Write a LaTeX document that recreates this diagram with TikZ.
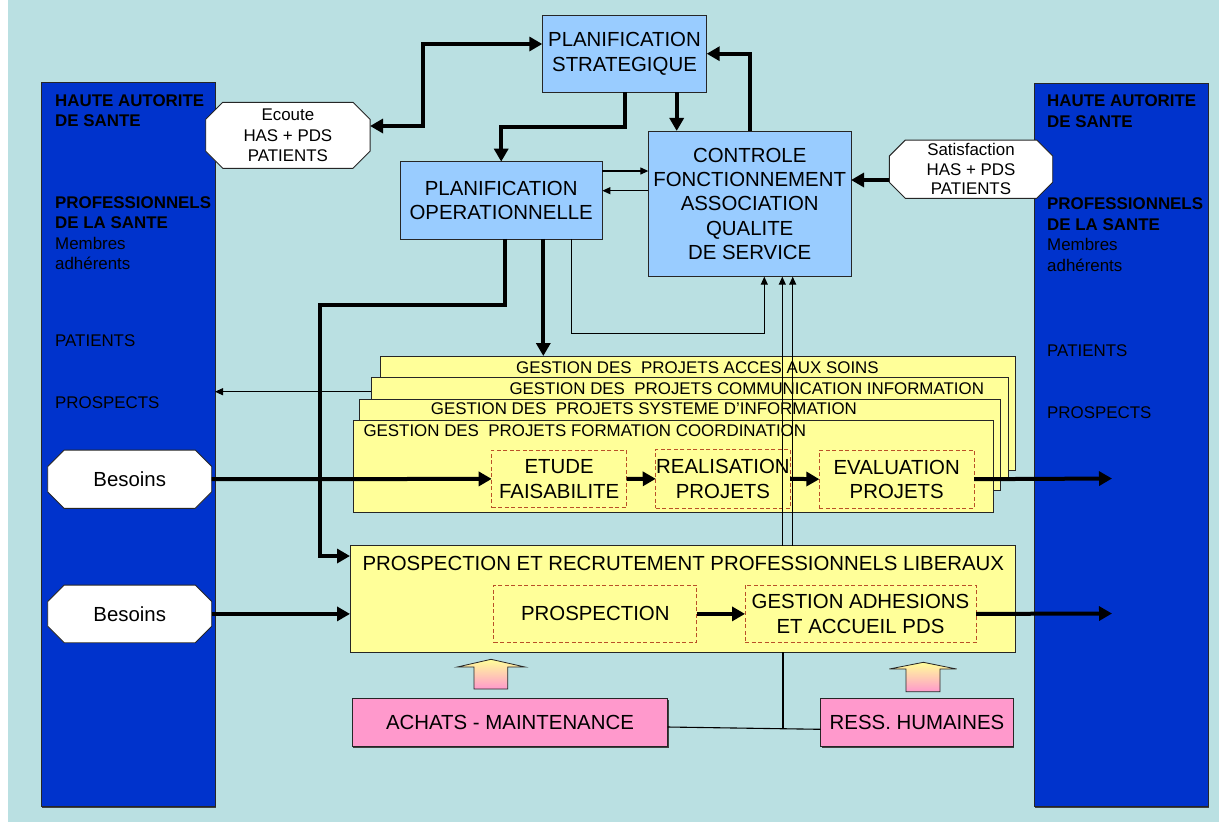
\documentclass[tikz,border=0pt]{standalone}
\usepackage{fontspec}
\setmainfont{Liberation Sans}
\usetikzlibrary{arrows.meta,shadows}
\definecolor{bgc}{RGB}{186,224,226}
\definecolor{panelc}{RGB}{0,51,204}
\definecolor{lblue}{RGB}{153,204,255}
\definecolor{lyel}{RGB}{255,255,153}
\definecolor{lpink}{RGB}{255,153,204}
\definecolor{dashc}{RGB}{185,80,40}
\newcommand\ftbig{\fontsize{20.4}{24.4}\selectfont}
\newcommand\ftsm{\fontsize{16.9}{20.4}\selectfont}
% name, cx, cy, w, h, chamfer, font, text
\newcommand\octnode[8]{%
  \draw[octline] ({#2-#4/2+#6},{#3-#5/2}) -- ({#2+#4/2-#6},{#3-#5/2}) -- ({#2+#4/2},{#3-#5/2+#6})
   -- ({#2+#4/2},{#3+#5/2-#6}) -- ({#2+#4/2-#6},{#3+#5/2}) -- ({#2-#4/2+#6},{#3+#5/2})
   -- ({#2-#4/2},{#3+#5/2-#6}) -- ({#2-#4/2},{#3-#5/2+#6}) -- cycle;
  \node[octtext, font=#7, minimum width=#4, minimum height=#5] (#1) at (#2,#3) {#8};}
\begin{document}
\begin{tikzpicture}[x=1pt,y=-1pt,
  shd/.style={drop shadow={shadow xshift=0.8pt,shadow yshift=-1.6pt,fill=black!75,opacity=1}},
  box/.style={draw=black!85, line width=0.9pt, inner sep=0pt, outer sep=0pt, align=center},
  lbbox/.style={box, fill=lblue, font=\ftbig},
  ybox/.style={box, fill=lyel, anchor=north west},
  dbox/.style={draw=dashc, dash pattern=on 4pt off 2.5pt, line width=1pt, fill=lyel,
               inner sep=0pt, outer sep=0pt, align=center, font=\ftbig},
  pbox/.style={box, fill=lpink, font=\ftbig, shd, anchor=north west},
  panelbox/.style={box, fill=panelc, shd, anchor=north west},
  ptxt/.style={anchor=base west, inner sep=0pt, font=\ftsm, text=black},
  octline/.style={draw=black!85, fill=white, line width=0.9pt},
  octtext/.style={inner sep=0pt, outer sep=0pt, align=center},
  thk/.style={line width=4pt, -{Triangle[length=13pt,width=14pt]}},
  thkboth/.style={line width=4pt, {Triangle[length=13pt,width=14pt]}-{Triangle[length=13pt,width=14pt]}},
  thn/.style={line width=1.1pt, -{Triangle[length=8pt,width=7pt]}},
  thinline/.style={line width=1.1pt},
  blockarrow/.style={top color=lyel, bottom color=lpink, draw=black!85, line width=0.8pt}
]
\useasboundingbox (0,0) rectangle (1219,823);
\fill[bgc] (8,0) rectangle (1219,822);

% side panels
\node[panelbox, minimum width=174, minimum height=724] (lp) at (41,82) {};
\node[panelbox, minimum width=174, minimum height=723] (rp) at (1034,83) {};

\node[ptxt, font=\ftsm\bfseries] (l1) at (55,106) {HAUTE AUTORITE};
\node[ptxt, font=\ftsm\bfseries] (l2) at (55,126.5) {DE SANTE};
\node[ptxt, font=\ftsm\bfseries] (l3) at (55,208) {PROFESSIONNELS};
\node[ptxt, font=\ftsm\bfseries] (l4) at (55,228.5) {DE LA SANTE};
\node[ptxt] (l5) at (55,249) {Membres};
\node[ptxt] (l6) at (55,269.5) {adhérents};
\node[ptxt] (l7) at (55,346.7) {PATIENTS};
\node[ptxt] (l8) at (55,408) {PROSPECTS};

\node[ptxt, font=\ftsm\bfseries] (r1) at (1047,106.7) {HAUTE AUTORITE};
\node[ptxt, font=\ftsm\bfseries] (r2) at (1047,127.5) {DE SANTE};
\node[ptxt, font=\ftsm\bfseries] (r3) at (1047,209) {PROFESSIONNELS};
\node[ptxt, font=\ftsm\bfseries] (r4) at (1047,230) {DE LA SANTE};
\node[ptxt] (r5) at (1047,250.7) {Membres};
\node[ptxt] (r6) at (1047,271.5) {adhérents};
\node[ptxt] (r7) at (1047,356.7) {PATIENTS};
\node[ptxt] (r8) at (1047,418) {PROSPECTS};

% octagons
\octnode{ecoute}{287.9}{135.3}{164.3}{66}{17}{\ftsm}{Ecoute\\HAS + PDS\\PATIENTS}
\octnode{sat}{971}{169.2}{163.4}{58.3}{16}{\fontsize{16.9}{19.6}\selectfont}{Satisfaction\\HAS + PDS\\PATIENTS}
\octnode{bes1}{129.7}{479.2}{164}{58.3}{16.5}{\ftbig}{Besoins}
\octnode{bes2}{129.7}{613.9}{164}{57.7}{16.5}{\ftbig}{Besoins}

% planning boxes
\node[lbbox, minimum width=164.4, minimum height=77.3] (ps) at (624.5,53.7) {PLANIFICATION\\STRATEGIQUE};
\node[lbbox, minimum width=202.3, minimum height=77.3] (po) at (501.2,200.3) {PLANIFICATION\\OPERATIONNELLE};
\node[lbbox, minimum width=202.7, minimum height=145.7] (ctrl) at (749.7,203.8) {CONTROLE\\FONCTIONNEMENT\\ASSOCIATION\\QUALITE\\DE SERVICE};

% project stack
\node[ybox, minimum width=635, minimum height=114] (g4) at (380,356) {};
\node[ptxt] (t4) at (516,373.3) {GESTION DES\ \ PROJETS ACCES AUX SOINS};
\node[ybox, minimum width=637, minimum height=100.7] (g3) at (371,377.3) {};
\node[ptxt] (t3) at (509.3,394.3) {GESTION DES\ \ PROJETS COMMUNICATION INFORMATION};
\node[ybox, minimum width=641.7, minimum height=91.4] (g2) at (359,399.3) {};
\node[ptxt] (t2) at (430.7,414.3) {GESTION DES\ \ PROJETS SYSTEME D’INFORMATION};
\node[ybox, minimum width=640, minimum height=92] (g1) at (353.3,420.7) {};
\node[ptxt] (t1) at (363.3,436.7) {GESTION DES\ \ PROJETS FORMATION COORDINATION};

\node[dbox, minimum width=135, minimum height=57.7] (etude) at (559.2,478.9) {ETUDE\\FAISABILITE};
\node[dbox, minimum width=134.3, minimum height=59] (real) at (722.9,478.8) {REALISATION\\PROJETS};
\node[dbox, minimum width=154.7, minimum height=58.3] (eval) at (896.7,479.2) {EVALUATION\\PROJETS};

% prospection
\node[ybox, minimum width=665, minimum height=106.6] (pr) at (350,545.7) {};
\node[ptxt, font=\ftbig] (prt) at (362.3,570.7) {PROSPECTION ET RECRUTEMENT PROFESSIONNELS LIBERAUX};
\node[dbox, minimum width=202.7, minimum height=57.7] (pros) at (595.3,613.9) {PROSPECTION};
\node[dbox, minimum width=231, minimum height=57.7] (gest) at (860.5,613.9) {GESTION ADHESIONS\\ET ACCUEIL PDS};

% support boxes
\node[pbox, minimum width=315.4, minimum height=48.4] (ach) at (352.3,698.3) {ACHATS - MAINTENANCE};
\node[pbox, minimum width=192.6, minimum height=48.4] (ress) at (820.7,698.3) {RESS. HUMAINES};

% block arrows
\path[blockarrow] (474,689) -- (474,667) -- (457.3,667) -- (491,659.3) -- (525,667) -- (507.7,667) -- (507.7,689) -- cycle;
\path[blockarrow] (906,691.7) -- (906,669) -- (889.3,669) -- (923.3,662.3) -- (956.7,669) -- (940,669) -- (940,691.7) -- cycle;

% connectors
\draw[thkboth] ([yshift=9.3pt]ecoute.east) -- (423,126) |- ([yshift=9.7pt]ps.west);
\draw[thk] (ps.south) -- (ps.south |- 0,127) -| (po.north);
\draw[thk] (ps.south -| 676.7,0) -- (ctrl.north -| 676.7,0);
\draw[thk] (ctrl.north -| 750,0) |- (ps.east);
\draw[thn] (po.east |- 0,171) -- (ctrl.west |- 0,171);
\draw[thn] (ctrl.west |- 0,190.7) -- (po.east |- 0,190.7);
\draw[thk] (sat.west |- 0,180) -- (ctrl.east |- 0,180);
\draw[thk] (po.south -| 505,0) -- (505,305) -- (320,305) |- (pr.west |- 0,556);
\draw[thk] (po.south -| 543.3,0) -- (g4.north -| 543.3,0);
\draw[thn] (po.south -| 571.7,0) -- (571.7,333.3) -| (ctrl.south -| 764.3,0);
\draw[thn] (pr.north -| 782.3,0) -- (ctrl.south -| 782.3,0);
\draw[thn] (pr.north -| 792.7,0) -- (ctrl.south -| 792.7,0);
\draw[thinline] (pr.south -| 783,0) -- (783,728);
\draw[thinline] (ach.east |- 0,727) -- (ress.west |- 0,729.3);
\draw[thn] (g3.west |- 0,391.7) -- (lp.east |- 0,391.7);
\draw[thk] (bes1.east) -- (etude.west);
\draw[thk] (etude.east) -- (real.west);
\draw[thk] (real.east) -- (eval.west);
\coordinate (o1) at (1112,478.5);
\draw[thk] (eval.east) -- (o1);
\draw[thk] (bes2.east) -- (pr.west |- bes2.east);
\draw[thk] (pros.east) -- (gest.west);
\coordinate (o2) at (1112,613.5);
\draw[thk] (gest.east) -- (o2);
\end{tikzpicture}
\end{document}
